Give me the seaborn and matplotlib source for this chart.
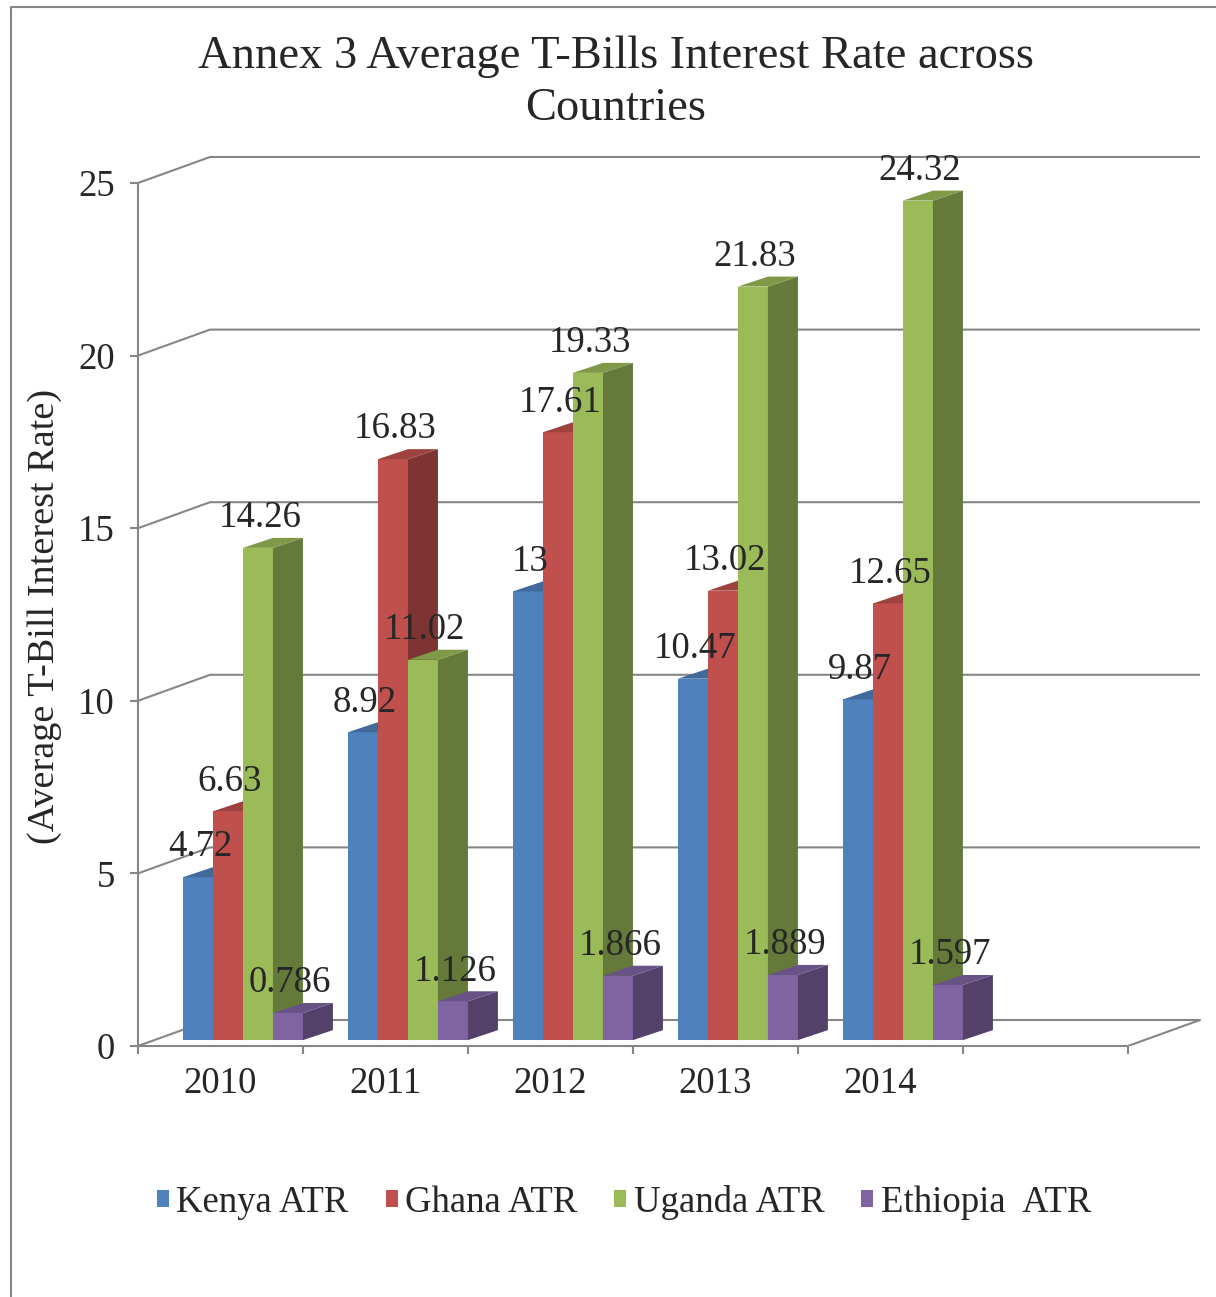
import numpy as np
import pandas as pd
import matplotlib
matplotlib.use("Agg")
import matplotlib.pyplot as plt
from matplotlib.patches import Polygon, Patch
from matplotlib.lines import Line2D
from matplotlib.colors import to_rgb
import seaborn as sns

# ---- data -------------------------------------------------------------
years = ["2010", "2011", "2012", "2013", "2014"]
series_names = ["Kenya ATR", "Ghana ATR", "Uganda ATR", "Ethiopia  ATR"]
kenya = [4.72, 8.92, 13, 10.47, 9.87]
ghana = [6.63, 16.83, 17.61, 13.02, 12.65]
uganda = [14.26, 11.02, 19.33, 21.83, 24.32]
ethiopia = [0.786, 1.126, 1.866, 1.889, 1.597]
colors = ["#4F81BD", "#C0504D", "#9BBB59", "#8064A2"]
yticks = [0, 5, 10, 15, 20, 25]

df = pd.DataFrame({
    "year": years * 4,
    "country": sum([[n] * len(years) for n in series_names], []),
    "rate": kenya + ghana + uganda + ethiopia,
})

# ---- style ------------------------------------------------------------
sns.set_style("white")
plt.rcParams["font.family"] = ["Liberation Serif", "DejaVu Serif"]
FS = 26.5
GRID = "#868686"

W, H = 1216, 1297
fig = plt.figure(figsize=(W / 100, H / 100), dpi=100)

# pixel geometry of the front plane
PX_X0, PX_Y0 = 138, 1046          # left end of category axis / value 0
PX_CAT, PX_UNIT = 165, 34.52      # pixels per category slot / per value unit
ax = fig.add_axes([PX_X0 / W, (H - PX_Y0) / H,
                   6.5 * PX_CAT / W, 26 * PX_UNIT / H])

sns.barplot(data=df, x="year", y="rate", hue="country", order=years,
            hue_order=series_names, palette=colors, saturation=1,
            width=0.727, linewidth=0, errorbar=None, legend=False, ax=ax)

ax.set_xlim(-0.5, 6.0)
ax.set_ylim(0, 26)

# depth of the back wall and of the bars (data units)
DX, DY = 72 / PX_CAT, 26 / PX_UNIT
BDX, BDY = 30 / PX_CAT, 10 / PX_UNIT
SHIFT_X, BASE_Y = 0.136, 0.17

# back wall gridlines with the left-wall diagonals
for v in yticks:
    ax.plot([-0.5, -0.5 + DX, 5.5 + DX], [v, v + DY, v + DY],
            color=GRID, lw=1.5, zorder=1, solid_capstyle="butt")
# right edge of the floor
ax.plot([5.5, 5.5 + DX], [0, DY], color=GRID, lw=1.5, zorder=1)

# 3-D bar faces
def shade(c, f):
    r, g, b = to_rgb(c)
    return (r * f, g * f, b * f)

for j, cont in enumerate(ax.containers):
    base = colors[j]
    for p in cont.patches:
        p.set_x(p.get_x() + SHIFT_X)
        p.set_y(BASE_Y)
        p.set_zorder(5 + j)
        x0, w, h = p.get_x(), p.get_width(), p.get_height()
        x1, y0, y1 = x0 + w, BASE_Y, BASE_Y + h
        side = Polygon([(x1, y0), (x1 + BDX, y0 + BDY), (x1 + BDX, y1 + BDY), (x1, y1)],
                       closed=True, fc=shade(base, 0.65), ec="none", zorder=5 + j)
        top = Polygon([(x0, y1), (x1, y1), (x1 + BDX, y1 + BDY), (x0 + BDX, y1 + BDY)],
                      closed=True, fc=shade(base, 0.82), ec="none", zorder=5 + j)
        ax.add_patch(side)
        ax.add_patch(top)
        ax.text(x0 + w / 2 + 0.012, y1 + 0.6, f"{h:g}", ha="center",
                va="baseline", fontsize=FS, zorder=20)

# axes lines and ticks
for s in ["top", "right"]:
    ax.spines[s].set_visible(False)
for s in ["left", "bottom"]:
    ax.spines[s].set_color(GRID)
    ax.spines[s].set_linewidth(1.5)
ax.spines["left"].set_bounds(0, 25)
ax.spines["bottom"].set_bounds(-0.5, 5.5)

ax.set_yticks(yticks)
ax.set_yticklabels([str(t) for t in yticks], fontsize=FS)
ax.tick_params(axis="y", direction="out", length=5.8, width=1.5, color=GRID,
               pad=11, left=True)
ax.set_xticks(np.arange(-0.5, 6.0, 1.0))
ax.set_xticklabels([])
ax.tick_params(axis="x", which="major", direction="out", length=5.8, width=1.5,
               color=GRID, bottom=True)
ax.set_xticks(range(len(years)), minor=True)
ax.set_xticklabels(years, minor=True, fontsize=FS)
ax.tick_params(axis="x", which="minor", length=0, pad=15)
ax.set_xlabel("")
ax.set_ylabel("(Average T-Bill Interest Rate)", fontsize=FS + 1)
ax.yaxis.set_label_coords(-0.071, 0.479)

# title
fig.text(616 / W, 1 - 36 / H, "Annex 3 Average T-Bills Interest Rate across\nCountries",
         ha="center", va="top", fontsize=33.5, linespacing=1.27)

# legend
handles = [Patch(facecolor=c, edgecolor="none") for c in colors]
fig.legend(handles, series_names, loc="center", bbox_to_anchor=(624 / W, 1 - 1202 / H),
           ncol=4, frameon=False, fontsize=FS, handlelength=0.33, handleheight=0.33,
           handletextpad=0.2, columnspacing=1.0)

# chart-area border (left and top edges)
fig.add_artist(Line2D([10.5 / W, 10.5 / W, 1.0], [0.0, 1 - 7 / H, 1 - 7 / H],
                      transform=fig.transFigure, color=GRID, lw=1.5))

fig.savefig("out.png", dpi=100)
